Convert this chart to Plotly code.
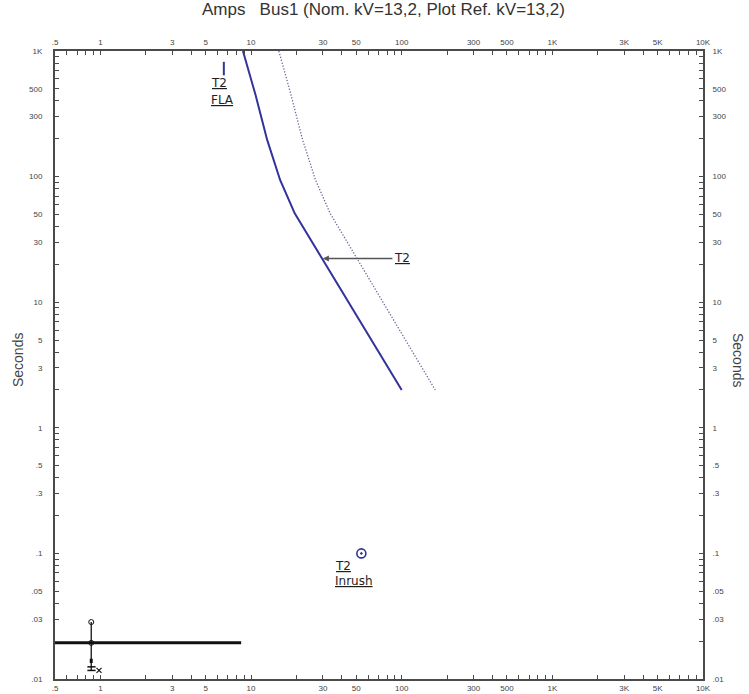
import math
import plotly.graph_objects as go

# ---------------- data ----------------
damage_amps = [8.84, 10.7, 12.8, 15.6, 19.5, 100]
damage_sec = [1000, 450, 196, 94, 51, 2]

shifted_amps = [15.3, 18.4, 22.0, 26.8, 33.5, 167]
shifted_sec = [1000, 450, 196, 94, 51, 2]

fla_amps = [6.6, 6.6]
fla_sec = [640, 820]

inrush_amps = [54]
inrush_sec = [0.1]

low_amps = [0.5, 8.6]
low_sec = [0.0194, 0.0194]

stem_amps = [0.87, 0.87]
stem_sec = [0.0284, 0.0118]
stem_mark_sec = [0.0284, 0.0194]
stem_thick_sec = [0.0145, 0.0134]
cap_plate_sec = [0.0125, 0.0117]
cap_plate_amps = [0.82, 0.93]
cap_x_amps = [0.98]

arrow_amps = 30
arrow_sec = 22.3

x_tick_vals = [0.5, 0.6, 0.7, 0.8, 0.9, 1, 2, 3, 4, 5, 6, 7, 8, 9,
               10, 20, 30, 40, 50, 60, 70, 80, 90,
               100, 200, 300, 400, 500, 600, 700, 800, 900,
               1000, 2000, 3000, 4000, 5000, 6000, 7000, 8000, 9000, 10000]
x_labels = {0.5: ".5", 1: "1", 3: "3", 5: "5", 10: "10", 30: "30", 50: "50",
            100: "100", 300: "300", 500: "500", 1000: "1K", 3000: "3K",
            5000: "5K", 10000: "10K"}

y_tick_vals = [0.01, 0.02, 0.03, 0.04, 0.05, 0.06, 0.07, 0.08, 0.09,
               0.1, 0.2, 0.3, 0.4, 0.5, 0.6, 0.7, 0.8, 0.9,
               1, 2, 3, 4, 5, 6, 7, 8, 9,
               10, 20, 30, 40, 50, 60, 70, 80, 90,
               100, 200, 300, 400, 500, 600, 700, 800, 900, 1000]
y_labels = {0.01: ".01", 0.03: ".03", 0.05: ".05", 0.1: ".1", 0.3: ".3",
            0.5: ".5", 1: "1", 3: "3", 5: "5", 10: "10", 30: "30", 50: "50",
            100: "100", 300: "300", 500: "500", 1000: "1K"}

title_text = "Amps\u00a0\u00a0\u00a0Bus1 (Nom. kV=13,2, Plot Ref. kV=13,2)"

# ---------------- styling ----------------
AX = "#4a4a4a"
BLUE = "#33339c"
TXT = "#1e1e1e"
TICKFONT = dict(family="Liberation Sans, Arial", size=8, color="#444444")

x_text = [x_labels.get(v, "") for v in x_tick_vals]
y_text = [y_labels.get(v, "") for v in y_tick_vals]
xr = [math.log10(0.5), 4]
yr = [-2, 3]

fig = go.Figure()

fig.add_trace(go.Scatter(x=shifted_amps, y=shifted_sec, mode="lines",
                         line=dict(color="#6a6a98", width=1.3, dash="1.3px,1.7px"),
                         hoverinfo="skip"))
fig.add_trace(go.Scatter(x=damage_amps, y=damage_sec, mode="lines",
                         line=dict(color=BLUE, width=2), hoverinfo="skip"))
fig.add_trace(go.Scatter(x=fla_amps, y=fla_sec, mode="lines",
                         line=dict(color=BLUE, width=2), hoverinfo="skip"))
fig.add_trace(go.Scatter(x=inrush_amps, y=inrush_sec, mode="markers",
                         marker=dict(symbol="circle-open-dot", size=9,
                                     color=BLUE, line=dict(color=BLUE, width=1.6)),
                         hoverinfo="skip"))
fig.add_trace(go.Scatter(x=low_amps, y=low_sec, mode="lines",
                         line=dict(color="#111111", width=3), hoverinfo="skip"))
fig.add_trace(go.Scatter(x=stem_amps, y=stem_sec, mode="lines",
                         line=dict(color="#111111", width=1.3), hoverinfo="skip"))
fig.add_trace(go.Scatter(x=stem_amps, y=stem_thick_sec, mode="lines",
                         line=dict(color="#111111", width=3), hoverinfo="skip"))
for s in cap_plate_sec:
    fig.add_trace(go.Scatter(x=cap_plate_amps, y=[s, s], mode="lines",
                             line=dict(color="#111111", width=1.5), hoverinfo="skip"))
fig.add_trace(go.Scatter(x=cap_x_amps, y=[cap_plate_sec[1]], mode="markers",
                         marker=dict(symbol="x-thin-open", size=5, color="#111111",
                                     line=dict(width=1.2, color="#111111")),
                         hoverinfo="skip"))
fig.add_trace(go.Scatter(x=[stem_amps[0]] * 2, y=stem_mark_sec, mode="markers",
                         marker=dict(symbol="circle-open", size=5, color="#111111",
                                     line=dict(width=1)),
                         hoverinfo="skip"))

# invisible trace on secondary axes so they are drawn
fig.add_trace(go.Scatter(x=[1], y=[1], xaxis="x2", yaxis="y2", mode="markers",
                         marker=dict(opacity=0), hoverinfo="skip"))

axis_common = dict(type="log", showgrid=False, zeroline=False, ticks="inside",
                   ticklen=4, tickwidth=1.3, tickcolor=AX, showline=True,
                   linecolor=AX, linewidth=2, tickfont=TICKFONT, automargin=False)

fig.update_layout(
    width=749, height=694,
    margin=dict(l=55, r=46, t=51, b=15),
    paper_bgcolor="white", plot_bgcolor="white",
    showlegend=False,
    xaxis=dict(range=xr, tickvals=x_tick_vals, ticktext=x_text, side="bottom",
               mirror=True, ticklabelstandoff=0, **axis_common),
    xaxis2=dict(range=xr, tickvals=x_tick_vals, ticktext=x_text, side="top",
                overlaying="x", ticklabelstandoff=1, **axis_common),
    yaxis=dict(range=yr, tickvals=y_tick_vals, ticktext=y_text, side="left",
               mirror=True, ticklabelstandoff=9, **axis_common),
    yaxis2=dict(range=yr, tickvals=y_tick_vals, ticktext=y_text, side="right",
                overlaying="y", ticklabelstandoff=6, **axis_common),
)

ann = []
ann.append(dict(text=title_text, xref="paper", yref="paper", x=0.507, y=1.066,
                showarrow=False, xanchor="center", yanchor="middle",
                font=dict(family="Liberation Sans, Arial", size=17, color="#333333")))
ann.append(dict(text="Seconds", xref="paper", yref="paper", x=-0.057, y=0.508,
                textangle=-90, showarrow=False, xanchor="center", yanchor="middle",
                font=dict(family="Liberation Sans, Arial", size=14, color="#444444")))
ann.append(dict(text="Seconds", xref="paper", yref="paper", x=1.054, y=0.508,
                textangle=90, showarrow=False, xanchor="center", yanchor="middle",
                font=dict(family="Liberation Sans, Arial", size=14, color="#444444")))

LBL = dict(family="DejaVu Sans", size=12, color=TXT)
fx, fy = math.log10(fla_amps[0]), math.log10(fla_sec[0])
ann.append(dict(text="<u>T2</u>", x=fx, y=fy, xshift=-15, yshift=-8,
                xanchor="left", yanchor="middle", showarrow=False, font=LBL))
ann.append(dict(text="<u>FLA</u>", x=fx, y=fy, xshift=-15, yshift=-25,
                xanchor="left", yanchor="middle", showarrow=False, font=LBL))
ix, iy = math.log10(inrush_amps[0]), math.log10(inrush_sec[0])
ann.append(dict(text="<u>T2</u>", x=ix, y=iy, xshift=-28, yshift=-13,
                xanchor="left", yanchor="middle", showarrow=False, font=LBL))
ann.append(dict(text="<u>Inrush</u>", x=ix, y=iy, xshift=-28, yshift=-28,
                xanchor="left", yanchor="middle", showarrow=False, font=LBL))
ann.append(dict(text="<u>T2</u>", x=math.log10(arrow_amps), y=math.log10(arrow_sec),
                showarrow=True, ax=79, ay=0, arrowhead=2, arrowsize=0.8,
                arrowwidth=1.5, arrowcolor="#555555", font=LBL, standoff=0))
fig.update_layout(annotations=ann)

fig.write_html("out.html")
